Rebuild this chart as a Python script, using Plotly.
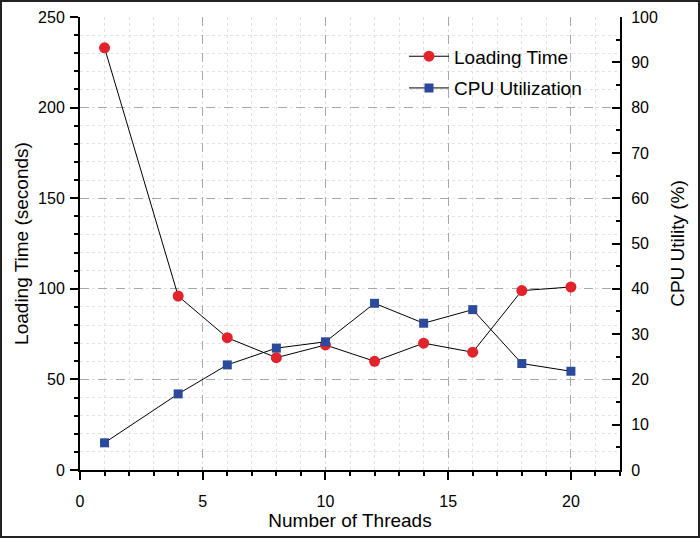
import plotly.graph_objects as go

threads = [1, 4, 6, 8, 10, 12, 14, 16, 18, 20]
loading_time = [233, 96, 73, 62, 69, 60, 70, 65, 99, 101]
cpu_util = [6.0, 16.8, 23.2, 26.9, 28.3, 36.8, 32.4, 35.4, 23.5, 21.8]

FONT = "Liberation Sans, Arial, sans-serif"

fig = go.Figure()
fig.add_trace(go.Scatter(
    x=threads, y=loading_time, name="Loading Time", mode="lines+markers",
    line=dict(color="black", width=1), legendgroup="a",
    marker=dict(symbol="circle", size=11, color="#e3232b"),
    xaxis="x", yaxis="y"))
fig.add_trace(go.Scatter(
    x=threads, y=cpu_util, name="CPU Utilization", mode="lines+markers",
    line=dict(color="black", width=1), legendgroup="b",
    marker=dict(symbol="square", size=9, color="#2c4a9c"),
    xaxis="x", yaxis="y2"))

tickfont = dict(family=FONT, size=16, color="black")
titlefont = dict(family=FONT, size=19, color="black")

fig.update_layout(
    width=700, height=538,
    margin=dict(l=80, r=80, t=17, b=68, autoexpand=False),
    paper_bgcolor="white", plot_bgcolor="white",
    showlegend=True,
    legend=dict(x=0.60, y=0.955, xanchor="left", yanchor="top",
                bgcolor="rgba(0,0,0,0)", font=dict(family=FONT, size=19, color="black"),
                itemwidth=40, tracegroupgap=4),
    xaxis=dict(
        range=[0, 22], tickvals=[0, 5, 10, 15, 20], ticks="outside", ticklen=8,
        tickwidth=2, tickcolor="black", showline=True, linecolor="black", linewidth=2,
        tickfont=tickfont, zeroline=False, automargin=False, ticklabelstandoff=8,
        showgrid=True, gridcolor="#a8a8a8", griddash="dash", gridwidth=1,
        minor=dict(dtick=1, tick0=0, ticks="outside", ticklen=4, tickcolor="black", tickwidth=2,
                   showgrid=True, gridcolor="#e2e2e2", griddash="dot", gridwidth=1),
        title=dict(text="Number of Threads", font=titlefont, standoff=2),
    ),
    xaxis3=dict(
        range=[0, 22], overlaying="x", side="top", anchor="y",
        tickvals=[0, 5, 10, 15, 20], ticks="inside", ticklen=8, tickwidth=2,
        tickcolor="black", showticklabels=False, showgrid=False, showline=True,
        linecolor="black", linewidth=2, zeroline=False, automargin=False,
        minor=dict(dtick=1, tick0=0, ticks="inside", ticklen=4, tickcolor="black", tickwidth=2,
                   showgrid=False),
    ),
    yaxis=dict(
        range=[0, 250], tickvals=[0, 50, 100, 150, 200, 250], ticks="outside", ticklen=8,
        tickwidth=2, tickcolor="black", showline=True, linecolor="black", linewidth=2,
        tickfont=tickfont, zeroline=False, automargin=False, ticklabelstandoff=2,
        showgrid=True, gridcolor="#a8a8a8", griddash="dash", gridwidth=1,
        minor=dict(dtick=10, tick0=0, ticks="outside", ticklen=4, tickcolor="black", tickwidth=2,
                   showgrid=True, gridcolor="#e2e2e2", griddash="dot", gridwidth=1),
        title=dict(text="Loading Time (seconds)", font=titlefont, standoff=4),
    ),
    yaxis2=dict(
        range=[0, 100], overlaying="y", side="right", anchor="x",
        tickvals=list(range(0, 101, 10)), ticks="inside", ticklen=8, tickwidth=2,
        tickcolor="black", showline=True, linecolor="black", linewidth=2,
        tickfont=tickfont, showgrid=False, zeroline=False, automargin=False,
        ticklabelstandoff=6,
        minor=dict(dtick=5, tick0=0, ticks="inside", ticklen=4, tickcolor="black", tickwidth=2,
                   showgrid=False),
        title=dict(text="CPU Utility (%)", font=titlefont, standoff=14),
    ),
    shapes=[dict(type="rect", xref="paper", yref="paper",
                 x0=(1 - 80) / 540, x1=(699 - 80) / 540,
                 y0=(470 - 537) / 453, y1=(470 - 1) / 453,
                 line=dict(color="#222222", width=2), fillcolor="rgba(0,0,0,0)", layer="above")],
)

fig.write_html("out.html", config={"displayModeBar": False},
               post_script="document.body.style.margin='0px';document.body.style.overflow='hidden';")
